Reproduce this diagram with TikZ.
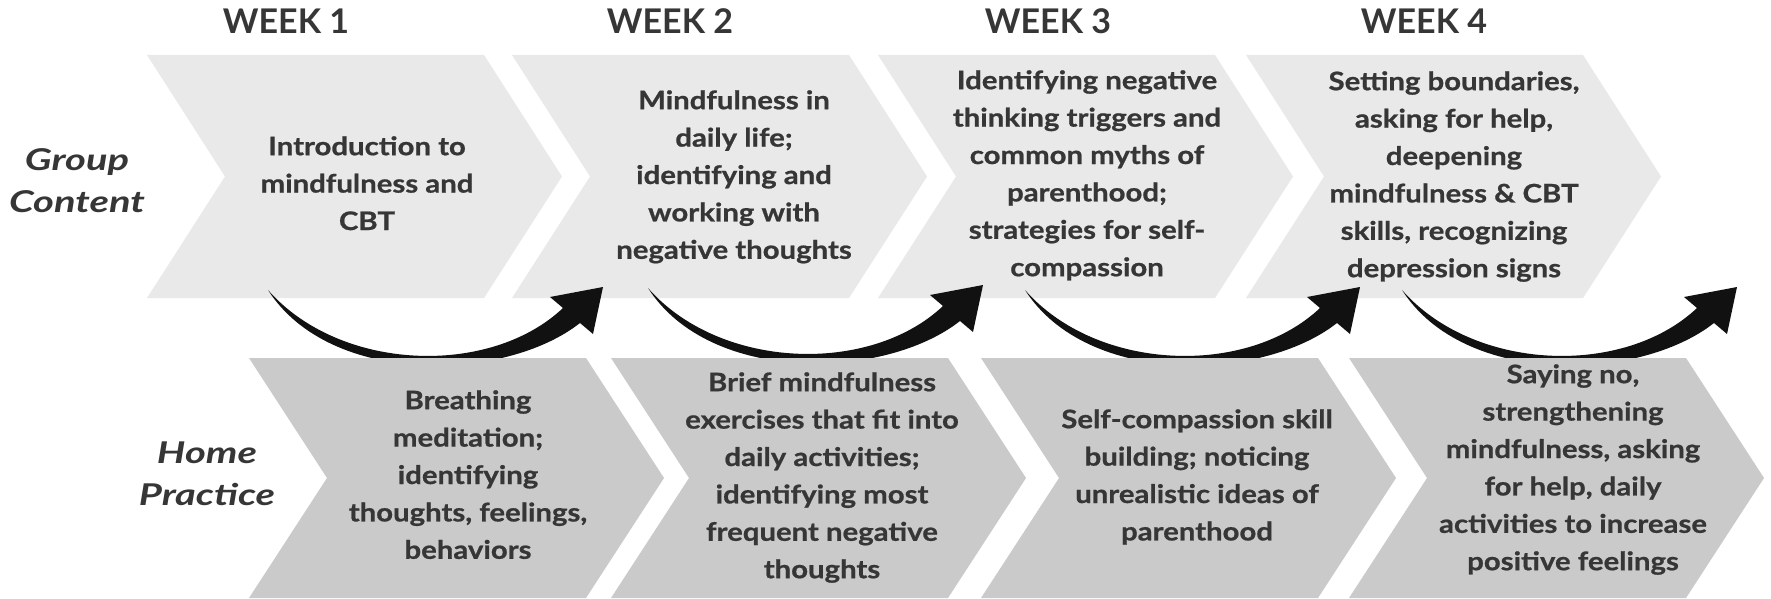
\documentclass[tikz,border=0pt]{standalone}
\usepackage{fontspec}
\setmainfont{Lato}
\newfontfamily\bodyfont{Lato}[FakeStretch=1.15, FakeBold=0.8]
\newfontfamily\sidefont{Lato}[FakeStretch=1.33]
\definecolor{topgray}{HTML}{E9E9E9}
\definecolor{botgray}{HTML}{CACACA}
\definecolor{txtcol}{HTML}{363636}
\definecolor{arrowcol}{HTML}{111111}
\newcommand\FS{\rule{0pt}{30pt}}
\newcommand\chevshape[4]{%
  \path[#1] (#2,#3) -- ({#2+337},#3) -- ({#2+415},{(#3+#4)/2}) -- ({#2+337},#4)
    -- (#2,#4) -- ({#2+78},{(#3+#4)/2}) -- cycle;}
\newcommand\bigarrow[3]{%
  \begin{scope}[shift={(#2,#3)}]
    \coordinate (#1) at (0,0);
    \fill[arrowfill] (#1) .. controls (72,82) and (222,87) .. (295,18) -- (282,7)
      -- (335,-3) -- (325,44) -- (312,33) .. controls (237,92) and (62,97) .. (0,0) -- cycle;
  \end{scope}}
\tikzset{
  chevtop/.style={fill=topgray},
  chevbot/.style={fill=botgray},
  arrowfill/.style={fill=arrowcol},
  bodytxt/.style={anchor=north, align=center, inner sep=0pt, text=txtcol,
    font=\bodyfont\fontsize{25.5}{37.4}\selectfont\bfseries},
  weektxt/.style={anchor=base, inner sep=0pt, text=txtcol,
    font=\fontsize{34}{40}\selectfont\bfseries},
  sidetxt/.style={anchor=north, align=center, inner sep=0pt, text=txtcol,
    font=\sidefont\fontsize{30}{42}\selectfont\bfseries\itshape}
}
\begin{document}
\begin{tikzpicture}[x=1pt,y=-1pt]
\useasboundingbox[fill=white] (0,0) rectangle (1771,599);
% top chevrons
\chevshape{chevtop}{147}{55}{298}
\chevshape{chevtop}{512}{55}{298}
\chevshape{chevtop}{878}{55}{298}
\chevshape{chevtop}{1246}{55}{298}
% arrows
\bigarrow{a1}{268}{290}
\bigarrow{a2}{648}{288}
\bigarrow{a3}{1025}{290}
\bigarrow{a4}{1402}{290}
% bottom chevrons
\chevshape{chevbot}{249}{358}{598}
\chevshape{chevbot}{611}{358}{598}
\chevshape{chevbot}{981}{358}{598}
\chevshape{chevbot}{1349}{358}{598}
% week labels
\node[weektxt] (w1) at (286,34) {WEEK 1};
\node[weektxt] (w2) at (670,34) {WEEK 2};
\node[weektxt] (w3) at (1048,34) {WEEK 3};
\node[weektxt] (w4) at (1424,34) {WEEK 4};
% side labels
\node[sidetxt] (gc) at (77,140) {\FS Group\\Content};
\node[sidetxt] (hp) at (207,433) {\FS Home\\Practice};
% top texts
\node[bodytxt] (t1) at (367,125) {\FS Introduction to\\mindfulness and\\CBT};
\node[bodytxt] (t2) at (734,79) {\FS Mindfulness in\\daily life;\\identifying and\\working with\\negative thoughts};
\node[bodytxt] (t3) at (1087,59) {\FS Identifying negative\\thinking triggers and\\common myths of\\parenthood;\\strategies for self-\\compassion};
\node[bodytxt] (t4) at (1454,60) {\FS Setting boundaries,\\asking for help,\\deepening\\mindfulness \& CBT\\skills, recognizing\\depression signs};
% bottom texts
\node[bodytxt] (b1) at (468,379) {\FS Breathing\\meditation;\\identifying\\thoughts, feelings,\\behaviors};
\node[bodytxt] (b2) at (822,361) {\FS Brief mindfulness\\exercises that fit into\\daily activities;\\identifying most\\frequent negative\\thoughts};
\node[bodytxt] (b3) at (1197,398) {\FS Self-compassion skill\\building; noticing\\unrealistic ideas of\\parenthood};
\node[bodytxt] (b4) at (1573,353) {\FS Saying no,\\strengthening\\mindfulness, asking\\for help, daily\\activities to increase\\positive feelings};
\end{tikzpicture}
\end{document}
